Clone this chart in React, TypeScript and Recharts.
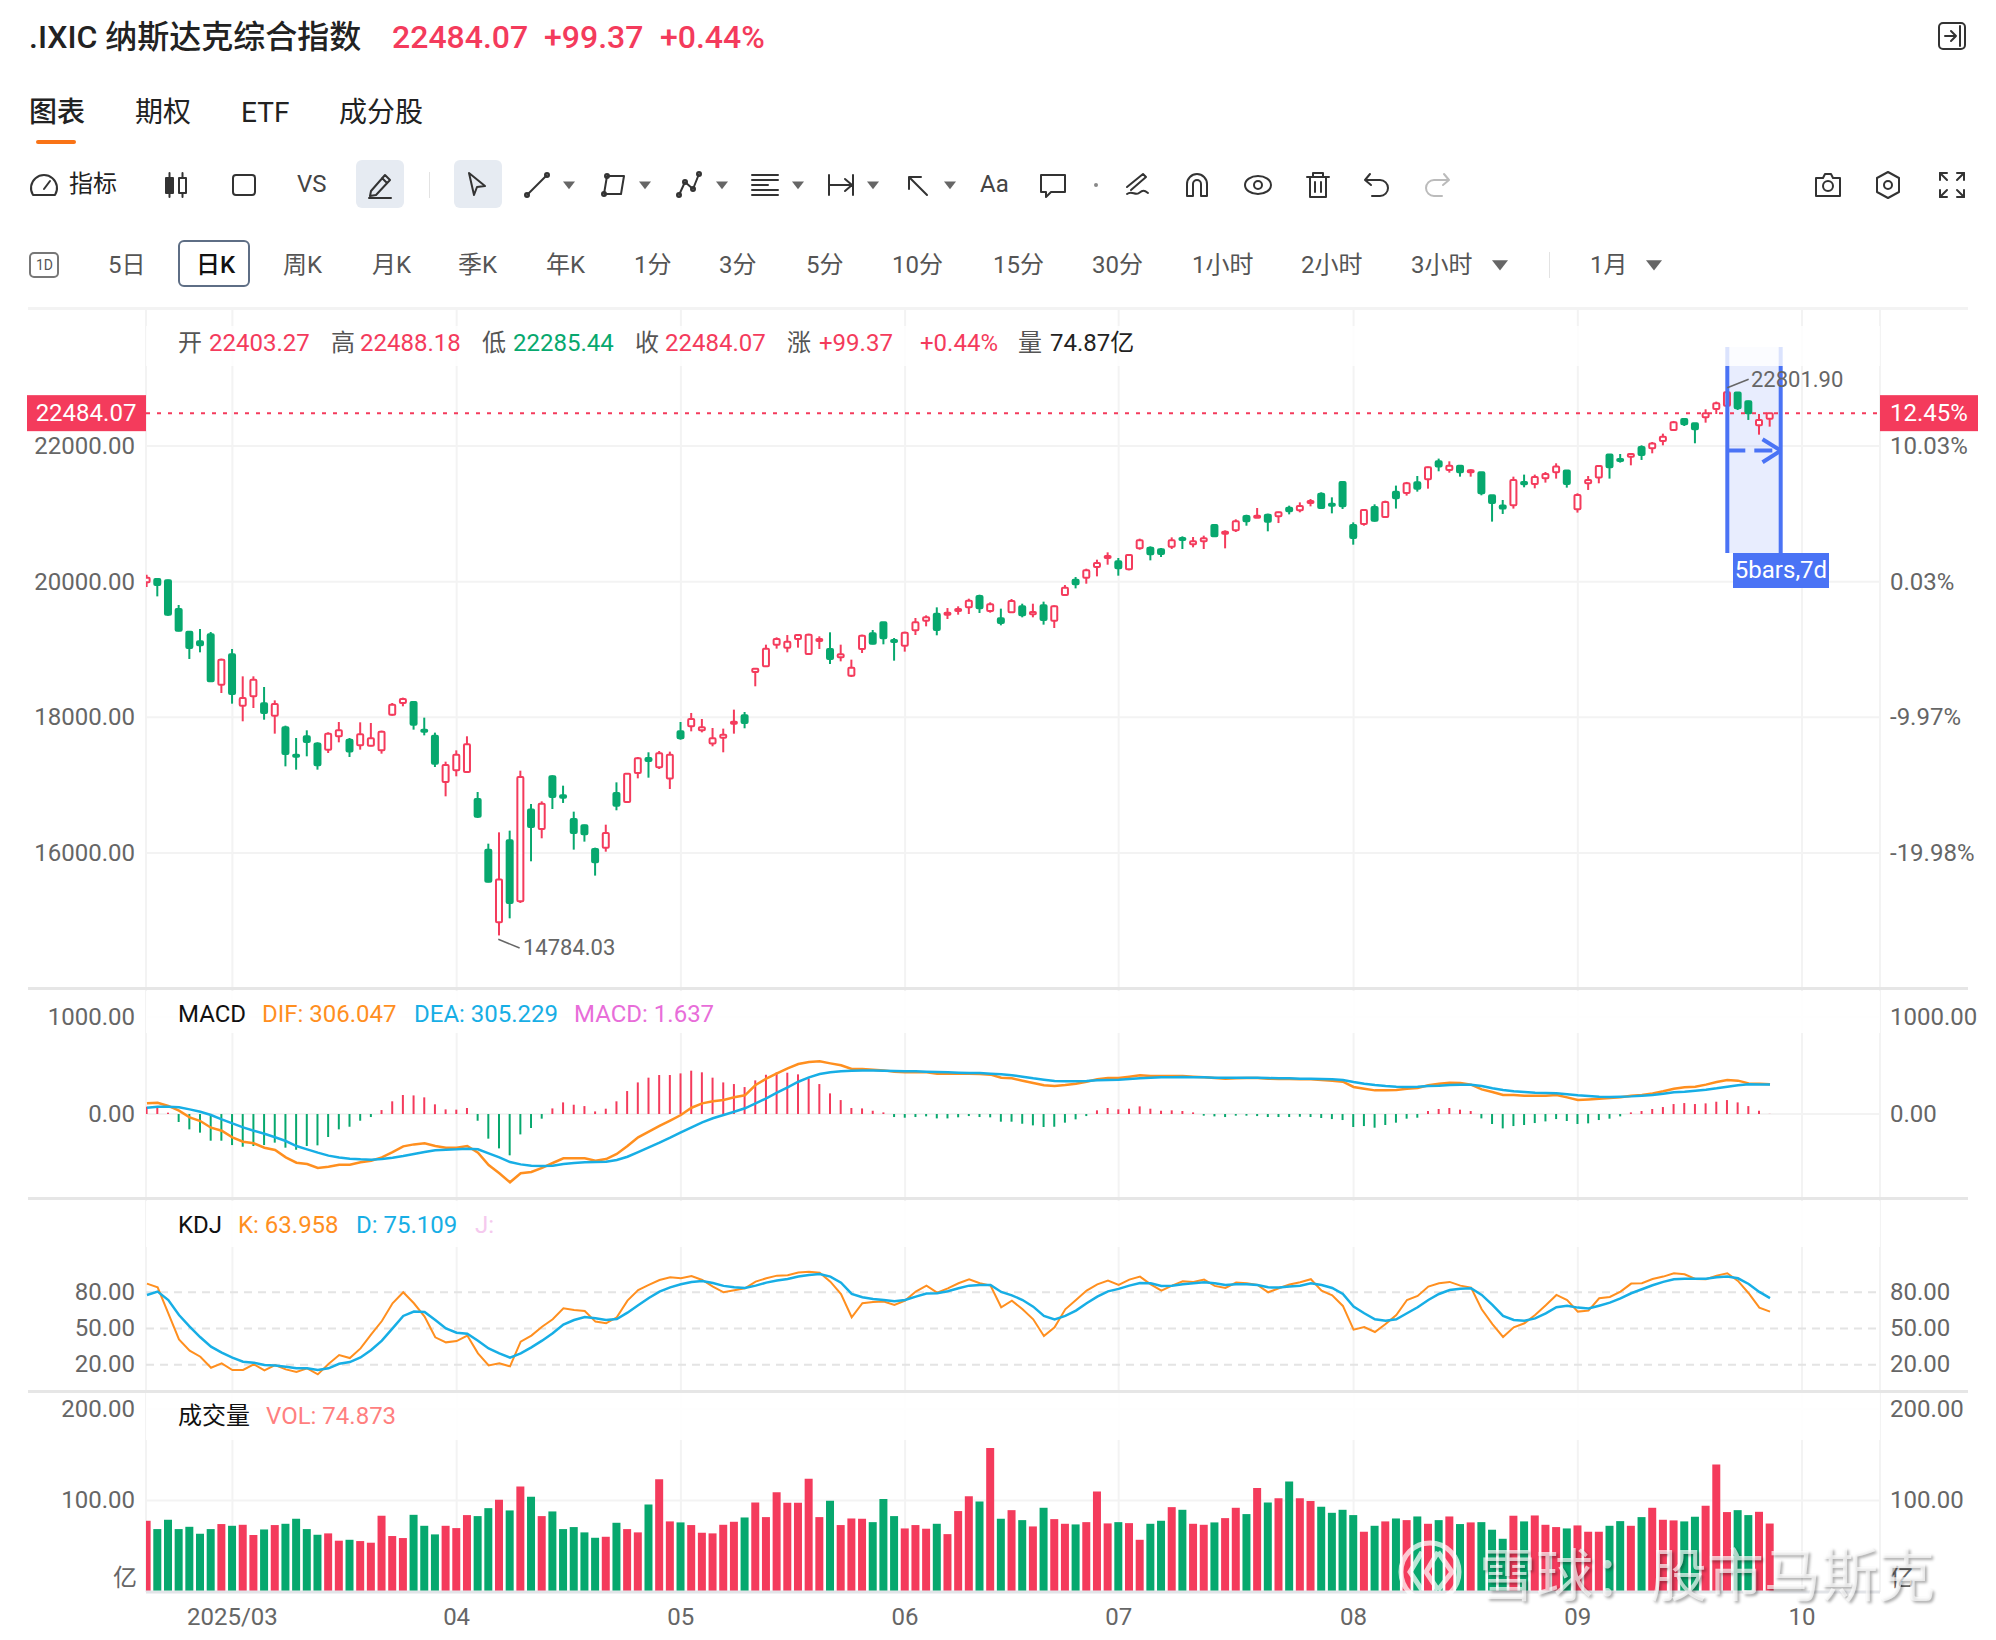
import React from 'react';
import { ComposedChart, Bar, Line, XAxis, YAxis, CartesianGrid, ReferenceLine, ReferenceArea, Cell } from 'recharts';

const opens = [
  19990,20039,20019,19597,19263,19120,19223,18481,18928,18172,
  18309,18206,18024,17852,17449,17720,17612,17523,17720,17670,
  17587,17582,17513,18039,18211,18226,17818,17729,17046,17218,
  17194,16796,16049,14978,16186,15287,16639,16354,17130,16850,
  16501,16408,16059,16078,16884,16752,17179,17400,17263,17096,
  17793,17867,17808,17612,17700,17911,18029,18668,18752,19071,
  19027,19154,18933,19125,19007,18884,18614,19007,19238,19400,
  19140,19056,19282,19425,19528,19518,19567,19621,19788,19567,
  19459,19548,19636,19518,19651,19425,19803,20029,20059,20216,
  20358,20299,20181,20491,20501,20476,20516,20643,20550,20594,
  20835,20717,20756,20968,20953,20987,20963,21091,21051,21164,
  21297,21149,21469,20835,20850,21100,20953,21327,21307,21465,
  21509,21774,21647,21710,21612,21612,21273,21121,21126,21470,
  21440,21524,21612,21637,21067,21450,21534,21873,21809,21843,
  21986,21966,22074,22236,22398,22334,22423,22546,22595,22787,
  22659,22305,22403.27,
];
const highs = [
  20103,20049,20029,19656,19272,19302,19258,18865,19007,18604,
  18604,18447,18250,17877,17695,17808,17631,17779,17931,17695,
  17926,17916,17803,18211,18290,18240,17995,17774,17346,17513,
  17720,16899,16137,16304,16329,17213,16722,16761,17145,16992,
  16609,16417,16078,16417,17041,17179,17415,17484,17503,17494,
  17931,18064,17975,17842,17833,18113,18078,18717,19071,19179,
  19213,19228,19233,19194,19253,19071,18850,19218,19287,19400,
  19169,19262,19464,19503,19621,19611,19636,19749,19808,19695,
  19602,19744,19675,19675,19705,19651,19950,20068,20191,20324,
  20432,20349,20408,20634,20520,20496,20653,20668,20658,20678,
  20845,20756,20919,20987,21086,21002,21032,21120,21169,21218,
  21317,21243,21469,20874,21071,21140,21194,21416,21470,21558,
  21696,21814,21774,21720,21656,21612,21273,21204,21548,21578,
  21578,21617,21745,21637,21303,21558,21715,21882,21882,21892,
  22010,22059,22182,22369,22408,22339,22541,22654,22801.9,22792,
  22669,22472,22488.18,
];
const lows = [
  19921,19783,19498,19267,18860,18958,18525,18358,18201,17941,
  18137,17965,17759,17277,17228,17425,17228,17474,17631,17415,
  17523,17572,17464,18024,18162,17818,17734,17267,16835,17130,
  17179,16516,15567,14784.03,15036,15263,15877,16216,16648,16737,
  16049,16167,15666,16019,16629,16737,17100,17110,17238,16943,
  17670,17793,17778,17572,17484,17759,17838,18457,18742,19012,
  18958,19027,18923,19007,18786,18825,18594,18948,19076,19076,
  18835,18968,19213,19341,19209,19449,19513,19523,19538,19543,
  19356,19538,19474,19474,19366,19317,19788,19901,19970,20078,
  20250,20088,20167,20471,20314,20363,20481,20481,20506,20481,
  20658,20491,20732,20825,20953,20742,20864,20992,21022,21110,
  21071,21007,21071,20545,20825,20884,20938,21077,21268,21327,
  21371,21627,21607,21548,21548,21273,20885,20998,21077,21391,
  21376,21460,21519,21386,21018,21352,21450,21519,21755,21715,
  21794,21892,22010,22226,22295,22040,22344,22472,22580,22531,
  22384,22167,22285.44,
];
const closes = [
  20059,19950,19513,19277,19022,19061,18530,18850,18344,18285,
  18555,18064,18196,17459,17425,17636,17292,17759,17808,17494,
  17749,17690,17788,18186,18270,17892,17793,17317,17297,17449,
  17602,16535,15577,15607,15263,17120,16383,16727,16825,16815,
  16294,16275,15862,16294,16697,17169,17395,17356,17469,17449,
  17690,17975,17852,17690,17744,17936,17916,18717,19012,19154,
  19115,19213,19218,19154,18860,18928,18732,19204,19086,19164,
  19110,19248,19400,19474,19287,19543,19597,19720,19607,19665,
  19390,19715,19503,19552,19435,19636,19911,19960,20167,20275,
  20378,20196,20393,20609,20403,20408,20609,20629,20594,20638,
  20668,20737,20889,20889,20973,20884,21022,21037,21115,21189,
  21086,21125,21110,20643,21056,20899,21174,21229,21450,21371,
  21686,21696,21710,21612,21642,21303,21160,21077,21499,21435,
  21543,21588,21696,21440,21278,21499,21706,21686,21784,21882,
  21868,22035,22138,22349,22320,22246,22482,22629,22792,22556,
  22482,22384,22484.07,
];
const dif = [
  110,117,83,35,-34,-72,-141,-172,-240,-285,
  -302,-347,-371,-447,-502,-515,-556,-543,-522,-522,
  -498,-481,-447,-392,-333,-313,-302,-330,-347,-347,
  -330,-398,-526,-611,-704,-611,-598,-556,-505,-457,
  -457,-457,-481,-464,-412,-330,-240,-182,-123,-68,
  -10,65,110,131,145,172,193,299,364,419,
  471,516,536,543,522,502,464,464,457,450,
  437,430,430,430,416,416,416,416,413,406,
  375,368,344,320,296,289,299,313,333,358,
  371,371,385,399,392,392,392,392,385,378,
  371,364,368,371,371,364,361,361,358,358,
  351,344,333,279,261,244,244,248,261,268,
  296,313,323,320,303,254,227,196,196,189,
  189,189,196,172,145,151,158,165,172,189,
  196,213,234,261,275,282,303,330,351,344,
  316,313,306.047,
];
const dea = [
  65,76,76,69,48,24,-10,-55,-96,-137,
  -172,-203,-240,-278,-330,-364,-398,-429,-447,-460,
  -467,-471,-464,-450,-433,-412,-392,-374,-367,-364,
  -357,-364,-405,-447,-495,-519,-533,-536,-533,-515,
  -505,-498,-495,-491,-474,-440,-392,-343,-295,-244,
  -189,-137,-86,-44,-10,24,59,110,162,220,
  275,333,378,413,430,440,447,450,450,447,
  443,440,440,437,433,430,426,423,423,416,
  409,399,385,368,354,340,337,337,340,347,
  351,354,361,368,375,378,378,382,378,378,
  375,375,375,375,375,371,368,368,364,364,
  361,358,351,330,313,299,289,282,279,282,
  289,292,299,303,303,289,265,248,234,227,
  220,217,213,203,193,186,179,175,179,182,
  189,196,210,224,230,241,251,265,282,296,
  306,305,305.229,
];
const macd = [
  76,76,14,-82,-158,-192,-275,-275,-320,-337,
  -330,-320,-295,-347,-368,-330,-323,-237,-158,-131,
  -69,-31,41,131,196,192,172,100,48,45,
  62,-69,-254,-354,-426,-210,-144,-48,58,120,
  96,82,27,55,131,237,326,375,402,402,
  419,447,430,375,326,309,278,347,405,430,
  426,409,368,309,213,144,62,58,34,17,
  -31,-38,-31,-24,-45,-45,-34,-21,-31,-34,
  -79,-79,-100,-117,-134,-131,-89,-55,-21,38,
  62,48,55,79,55,34,38,31,17,-17,
  -24,-31,-17,-17,-21,-31,-31,-31,-28,-31,
  -41,-52,-62,-134,-124,-141,-113,-89,-48,-38,
  31,52,62,45,31,-45,-103,-148,-124,-113,
  -93,-76,-52,-72,-103,-96,-62,-48,-24,17,
  31,52,72,103,113,103,110,127,144,120,
  82,34,1.637,
];
const kValues = [
  87.2,84.1,62.6,41,31.6,26.6,17.5,21.1,15.6,15.6,
  20.3,15.3,19.7,16.1,13.9,17,12,20.6,28,25.5,
  33.5,45.2,56.2,70.9,80,70.9,59.8,42.7,38.5,39.6,
  44.1,29.4,19.4,21.1,18.6,39.1,44.1,51.5,57.6,66.7,
  65.3,64.5,55.7,54.3,59.3,73.1,81.9,86.1,90.2,92.4,
  91.6,93.5,90.2,84.7,80,81.7,83.3,88.8,91.6,93.8,
  94.1,96.3,97.1,96.3,88.8,78.6,59.3,70.9,72,72.3,
  69.5,73.1,80.6,85.5,79.7,83.3,87.5,90.8,87.5,85.5,
  67.6,73.1,65.9,57.6,43.8,51,65.9,73.6,81.4,86.6,
  89.7,86.1,90.5,93,86.6,81.4,85.5,89.1,88.6,90.5,
  85.3,83.6,88,87.5,86.1,80,83.3,86.4,88.3,90.8,
  81.4,77.5,68.7,49,51.2,47.1,53.7,61.2,73.6,77,
  84.7,87.5,88.6,85.5,83.9,65.9,53.7,43,51,54.3,
  61.2,69.2,77.8,73.6,64,64.8,75,76.1,80.6,87.2,
  87.5,91,93,95.8,94.9,91,90.8,93.8,95.8,89.4,
  79.2,67.3,63.958,
];
const dValues = [
  77.8,80.6,73.6,61.2,51.5,42.7,34.9,30,25.8,22.5,
  21.7,19.7,19.4,18.3,17,17,15.6,17,20.8,22.2,
  26,32.2,39.9,50.1,60.4,64,63.7,57,50.1,46.5,
  45.7,39.9,33.5,29.4,25.8,29.4,34.4,39.9,46,53.2,
  57,59.5,58.4,57,57.9,63.1,69.2,75.3,80.6,84.1,
  86.6,88.6,89.4,87.7,85.3,84.1,83.6,85.5,88,89.7,
  91,93,94.4,95.2,93,88,78.6,75.9,74.5,73.6,
  72.5,73.6,76.4,78.9,79.2,80.8,83.3,85.5,86.1,86.1,
  80.3,77.5,73.6,68.1,60.4,57.6,60.4,64.8,70.9,76.4,
  80.8,82.8,85.5,87.7,87.5,85.3,85.5,86.6,87.5,88.3,
  87.5,86.1,86.6,86.6,86.1,84.1,83.9,84.7,85.5,87.5,
  86.1,83.6,78.6,68.1,62.6,57.6,56.5,57.6,62.6,67.6,
  73.6,78.6,81.9,83,83.3,77.8,69.5,60.4,57,56.5,
  58.4,62.6,67.6,68.9,67.3,66.5,68.9,71.4,75,79.2,
  82.5,85.8,88.6,90.8,91.3,91.3,91.3,92.4,93,91.6,
  86.9,80.3,75.109,
];
const volumes = [
  77.9,68.8,79,68.8,71.3,63.7,68.8,74.3,72.4,73.5,
  62.2,68.4,73.2,74.6,80.1,68.8,62.6,64.1,56.1,57.1,
  55.7,53.9,83.4,61.2,59,84.4,72.4,63,72.4,69.9,
  84.1,83,91.7,100.8,89.2,115.4,104.1,83,88.1,68.8,
  71,65.2,59.3,60.4,75.7,68.8,65.2,95.7,123.4,77.2,
  76.1,73.2,64.8,64.1,73.5,76.8,81.5,97.9,81.9,109.2,
  97.6,97.6,123.8,81.9,99.7,73.2,80.4,80.1,76.4,101.6,
  83,69.5,73.2,69.2,74.6,63.3,88.5,104.8,99,157.6,
  80.1,89.5,78.6,71.7,92.1,79.7,74.6,73.9,76.4,109.9,
  75,76.4,75.3,57.1,74.6,77.9,92.8,89.9,74.6,73.5,
  76.1,80.8,92.1,85.2,113.6,97.9,102.6,120.8,102.6,99.4,
  93.2,86.6,89.9,84.1,65.9,72.4,77.2,80.4,78.6,82.6,
  74.6,78.6,82.6,74.3,76.1,76.4,68.1,58.2,83.4,77.2,
  83.7,73.5,71,69.5,72.8,65.9,65.9,72.4,77.5,72.4,
  81.9,92.1,79,78.3,77.2,82.3,94.3,139.4,87.4,89.5,
  84.1,87.7,74.873,
];

const monthTicks = [8, 29, 50, 71, 91, 113, 134, 155];
const monthLabels = ['2025/03', '04', '05', '06', '07', '08', '09', '10'];
const priceTicks = [16000, 18000, 20000, 22000];
const percentLabels = ['-19.98%', '-9.97%', '0.03%', '10.03%'];
const lastClose = 22484.07;
const lastPercent = '12.45%';
const kdjTicks = [20, 50, 80];
const periods = ['5日', '日K', '周K', '月K', '季K', '年K', '1分', '3分', '5分', '10分', '15分', '30分', '1小时', '2小时', '3小时', '1月'];
const periodX = [108, 196, 283, 372, 458, 546, 634, 719, 806, 892, 993, 1092, 1192, 1301, 1411, 1590];

const rows = closes.map((c, i) => ({
  idx: i, open: opens[i], high: highs[i], low: lows[i], close: c,
  range: [lows[i], highs[i]],
  dif: dif[i], dea: dea[i], macd: macd[i], k: kValues[i], d: dValues[i], vol: volumes[i],
}));

const RED = '#F43B5C';
const GREEN = '#07A86E';
const ORANGE = '#FF8F1F';
const BLUE = '#17AEE5';
const MEASURE = '#4A73F5';
const GRID = '#F3F3F3';
const LABEL = '#666';
const FONT = 'Roboto, "Noto Sans CJK SC", sans-serif';
const xDomain: [number, number] = [-0.09, 162.3];
const priceDomain: [number, number] = [14009, 24005];
const macdDomain: [number, number] = [-876, 1289];
const kdjDomain: [number, number] = [-1.8, 157.3];
const volDomain: [number, number] = [0, 219.8];
const tickStyle = { fontSize: 24, fill: LABEL, fontFamily: FONT };
const yTickStyle = { ...tickStyle, dy: -1 };

const Candle = (props: any) => {
  const { x, y, width, height, payload } = props;
  const { open, high, low, close } = payload;
  const perUnit = Math.abs(height) / Math.max(high - low, 1);
  const up = close >= open;
  const color = up ? RED : GREEN;
  const cx = x + width / 2;
  const top = y + (high - Math.max(open, close)) * perUnit;
  const bodyH = Math.max(Math.abs(open - close) * perUnit, 2);
  return (
    <g>
      <line x1={cx} x2={cx} y1={y} y2={y + Math.abs(height)} stroke={color} strokeWidth={2} />
      <rect x={x + 1} y={top} width={width - 2} height={bodyH} rx={1} fill={up ? '#fff' : color} stroke={color} strokeWidth={2} />
    </g>
  );
};

const PriceTick = (props: any) => {
  const { x, y, payload } = props;
  if (payload.value === lastClose) {
    return (
      <g>
        <rect x={27} y={y - 18} width={119} height={36} fill={RED} />
        <text x={86} y={y + 8} textAnchor="middle" fontSize={24} fill="#fff" fontFamily={FONT}>{lastClose.toFixed(2)}</text>
      </g>
    );
  }
  return <text x={x} y={y + 8} textAnchor="end" {...tickStyle}>{payload.value.toFixed(2)}</text>;
};

const PercentTick = (props: any) => {
  const { x, y, payload } = props;
  if (payload.value === lastClose) {
    return (
      <g>
        <rect x={1880} y={y - 18} width={98} height={36} fill={RED} />
        <text x={1929} y={y + 8} textAnchor="middle" fontSize={24} fill="#fff" fontFamily={FONT}>{lastPercent}</text>
      </g>
    );
  }
  return <text x={x} y={y + 8} textAnchor="start" {...tickStyle}>{percentLabels[priceTicks.indexOf(payload.value)]}</text>;
};

// grid positions come from the same domains the axes use, so the lines stay under the series
const gridX = ({ offset }: any) =>
  [...monthTicks, xDomain[0], xDomain[1]].map((v) => offset.left + ((v - xDomain[0]) / (xDomain[1] - xDomain[0])) * offset.width);
const gridY = (values: number[], domain: [number, number]) => ({ offset }: any) =>
  values.map((v) => offset.top + ((domain[1] - v) / (domain[1] - domain[0])) * offset.height);

const Panel = ({ top, height, children }: any) => (
  <div style={{ position: 'absolute', left: 0, top, width: 1996, height }}>
    <ComposedChart width={1996} height={height} data={rows} margin={{ top: 0, right: 0, bottom: 0, left: 0 }}>
      {children}
    </ComposedChart>
  </div>
);

const Txt = ({ x, y, size = 24, color = '#222', weight = 400, children }: any) => (
  <div style={{ position: 'absolute', left: x, top: y, transform: 'translateY(-50%)', fontSize: size, color, fontWeight: weight, fontFamily: FONT, whiteSpace: 'nowrap', lineHeight: 1.2 }}>
    {children}
  </div>
);

const Box = ({ x, y, w, h, bg, radius = 0, border, opacity }: any) => (
  <div style={{ position: 'absolute', left: x, top: y, width: w, height: h, background: bg, borderRadius: radius, border, opacity, boxSizing: 'border-box' }} />
);

const Ico = ({ x, y = 185, color = '#333', children }: any) => (
  <svg style={{ position: 'absolute', left: x - 16, top: y - 16 }} width={32} height={32} viewBox="0 0 32 32" fill="none" stroke={color} strokeWidth={2} strokeLinecap="round" strokeLinejoin="round">
    {children}
  </svg>
);

const Caret = ({ x, y = 185, size = 6, color = '#666' }: any) => (
  <svg style={{ position: 'absolute', left: x - size, top: y - size }} width={size * 2} height={size * 2}>
    <polygon points={`0,${size * 0.4} ${size * 2},${size * 0.4} ${size},${size * 1.7}`} fill={color} />
  </svg>
);

const Header = () => (
  <>
    <Txt x={29} y={37} size={32} weight={500}>.IXIC 纳斯达克综合指数</Txt>
    <Txt x={392} y={37} size={32} weight={500} color={RED}>22484.07</Txt>
    <Txt x={544} y={37} size={32} weight={500} color={RED}>+99.37</Txt>
    <Txt x={660} y={37} size={32} weight={500} color={RED}>+0.44%</Txt>
    <Ico x={1952} y={36}><rect x="3" y="3" width="26" height="26" rx="4" /><path d="M9 16h11M15 11l5 5-5 5M24 6v20" /></Ico>
    <Txt x={29} y={113} size={28} weight={500}>图表</Txt>
    <Txt x={135} y={113} size={28}>期权</Txt>
    <Txt x={241} y={113} size={28}>ETF</Txt>
    <Txt x={339} y={113} size={28}>成分股</Txt>
    <Box x={36} y={140} w={40} h={4} bg="#F97316" radius={2} />

    <Box x={356} y={160} w={48} h={48} bg="#E6EBF2" radius={6} />
    <Box x={454} y={160} w={48} h={48} bg="#E6EBF2" radius={6} />
    <Box x={429} y={172} w={1} h={26} bg="#E3E3E3" />
    <Ico x={44}><path d="M5 26a13 13 0 1 1 22 0z" /><path d="M16 20l6-8" /></Ico>
    <Txt x={69} y={184}>指标</Txt>
    <Ico x={176}><rect x="6" y="9" width="7" height="15" fill="#333" /><path d="M9.5 4v24M22.5 4v24" /><rect x="19" y="9" width="7" height="15" fill="#fff" /></Ico>
    <Ico x={244}><rect x="5" y="6" width="22" height="20" rx="3" /></Ico>
    <Txt x={297} y={184} color="#444">VS</Txt>
    <Ico x={380}><path d="M7 22L21 6l5 5-14 15-6 1zM18 9l5 5M5 29h22" /></Ico>
    <Ico x={477}><path d="M8 4l16 13-8 1-3 8z" /></Ico>
    <Ico x={537}><path d="M6 26L26 6" /><circle cx="6" cy="26" r="2" /><circle cx="26" cy="6" r="2" /></Ico>
    <Caret x={569} />
    <Ico x={614}><path d="M9 7h17l-3 18H6z" /><circle cx="9" cy="7" r="2" /><circle cx="6" cy="25" r="2" /></Ico>
    <Caret x={645} />
    <Ico x={689}><path d="M6 26l6-13 8 7 6-15" /><circle cx="6" cy="26" r="2" /><circle cx="12" cy="13" r="2" /><circle cx="20" cy="20" r="2" /><circle cx="26" cy="5" r="2" /></Ico>
    <Caret x={722} />
    <Ico x={765}><path d="M3 6h26M3 11h26M3 16h16M3 21h26M3 26h26" /></Ico>
    <Caret x={798} />
    <Ico x={841}><path d="M4 6v20M28 6v20M4 16h23M20 10l7 6-7 6" /></Ico>
    <Caret x={873} />
    <Ico x={917}><path d="M8 8l18 18M8 8v12M8 8h12" /></Ico>
    <Caret x={950} />
    <Txt x={980} y={184} color="#444">Aa</Txt>
    <Ico x={1053}><path d="M4 6h24v17H14l-5 5v-5H4z" /></Ico>
    <Box x={1094} y={183} w={4} h={4} bg="#888" radius={2} />
    <Ico x={1137}><path d="M6 18L22 5l3 3L10 21M6 25c5-4 8 2 12-1s5-3 9 0" /></Ico>
    <Ico x={1197}><path d="M6 27V15a10 10 0 0 1 20 0v12h-6V15a4 4 0 0 0-8 0v12z" /></Ico>
    <Ico x={1258}><ellipse cx="16" cy="16" rx="13" ry="9" /><circle cx="16" cy="16" r="4" /></Ico>
    <Ico x={1318}><path d="M5 8h22M11 8V4h10v4M8 8v20h16V8M13 13v10M19 13v10" /></Ico>
    <Ico x={1377}><path d="M9 5L4 11l6 5M5 11h14a8 8 0 0 1 0 16h-8" /></Ico>
    <Ico x={1437} color="#BBB"><path d="M23 5l5 6-6 5M27 11H13a8 8 0 0 0 0 16h8" /></Ico>
    <Ico x={1828}><path d="M4 9h7l2-4h6l2 4h7v18H4z" /><circle cx="16" cy="17" r="5" /></Ico>
    <Ico x={1888}><path d="M16 3l11 6v14l-11 6-11-6V9z" /><circle cx="16" cy="16" r="4" /></Ico>
    <Ico x={1952}><path d="M4 11V4h7M21 4h7v7M28 21v7h-7M11 28H4v-7" /><path d="M4 4l7 7M28 4l-7 7M28 28l-7-7M4 28l7-7" /></Ico>

    <Box x={29} y={252} w={30} h={26} bg="#fff" radius={5} border="2px solid #777" />
    <Txt x={36} y={265} size={14} color="#555">1D</Txt>
    <Box x={178} y={240} w={72} h={47} bg="#fff" radius={6} border="2px solid #5E6E85" />
    {periods.map((p, i) => (
      <Txt key={p} x={periodX[i]} y={265} color={p === '日K' ? '#111' : '#555'} weight={p === '日K' ? 500 : 400}>{p}</Txt>
    ))}
    <Caret x={1500} y={265} size={8} />
    <Box x={1549} y={252} w={1} h={26} bg="#E3E3E3" />
    <Caret x={1654} y={265} size={8} />
  </>
);

const Legends = () => (
  <>
    <Txt x={178} y={343} color="#555">开</Txt>
    <Txt x={209} y={343} color={RED}>22403.27</Txt>
    <Txt x={331} y={343} color="#555">高</Txt>
    <Txt x={360} y={343} color={RED}>22488.18</Txt>
    <Txt x={482} y={343} color="#555">低</Txt>
    <Txt x={513} y={343} color={GREEN}>22285.44</Txt>
    <Txt x={635} y={343} color="#555">收</Txt>
    <Txt x={665} y={343} color={RED}>22484.07</Txt>
    <Txt x={787} y={343} color="#555">涨</Txt>
    <Txt x={819} y={343} color={RED}>+99.37</Txt>
    <Txt x={920} y={343} color={RED}>+0.44%</Txt>
    <Txt x={1018} y={343} color="#555">量</Txt>
    <Txt x={1050} y={343} color="#222">74.87亿</Txt>

    <Txt x={178} y={1014} color="#111">MACD</Txt>
    <Txt x={262} y={1014} color={ORANGE}>DIF: 306.047</Txt>
    <Txt x={414} y={1014} color={BLUE}>DEA: 305.229</Txt>
    <Txt x={574} y={1014} color="#E86DD9">MACD: 1.637</Txt>

    <Txt x={178} y={1225} color="#111">KDJ</Txt>
    <Txt x={238} y={1225} color={ORANGE}>K: 63.958</Txt>
    <Txt x={356} y={1225} color={BLUE}>D: 75.109</Txt>
    <Txt x={475} y={1225} color="#F5C9EE">J:</Txt>

    <Txt x={178} y={1416} color="#111">成交量</Txt>
    <Txt x={266} y={1416} color="#FF7F7F">VOL: 74.873</Txt>

    <Txt x={523} y={948} size={22} color={LABEL}>14784.03</Txt>
    <Txt x={1751} y={380} size={22} color={LABEL}>22801.90</Txt>
    <div style={{ position: 'absolute', left: 1733, top: 553, width: 96, height: 35, background: MEASURE, color: '#fff', fontSize: 24, fontFamily: FONT, textAlign: 'center', lineHeight: '35px' }}>5bars,7d</div>

    <Txt x={113} y={1578} color={LABEL}>亿</Txt>
    <Txt x={1890} y={1578} color={LABEL}>亿</Txt>
  </>
);

const Watermark = () => (
  <>
    <svg style={{ position: 'absolute', left: 1394, top: 1538 }} width={74} height={70} viewBox="0 0 74 70" fill="none" stroke="rgba(255,255,255,0.72)" strokeWidth={5}>
      <circle cx="36" cy="34" r="29" />
      <path d="M28 14L16 34l12 18M44 14L32 34l12 18M44 14l14 20-14 18" />
    </svg>
    <div style={{ position: 'absolute', left: 1479, top: 1549, fontSize: 57, fontFamily: FONT, color: 'rgba(255,255,255,0.68)', textShadow: '2px 2px 3px rgba(0,0,0,0.32)', whiteSpace: 'nowrap', lineHeight: '56px' }}>
      雪球：股市马斯克
    </div>
  </>
);

export default function App() {
  return (
    <div style={{ position: 'absolute', left: 0, top: 0, width: 1996, height: 1640, background: '#fff', overflow: 'hidden' }}>
      <Panel top={310} height={678}>
        <CartesianGrid stroke={GRID} strokeWidth={2} yAxisId="left" horizontalCoordinatesGenerator={gridY(priceTicks, priceDomain)} verticalCoordinatesGenerator={gridX} />
        <XAxis dataKey="idx" type="number" domain={xDomain} allowDataOverflow hide ticks={monthTicks} />
        <YAxis yAxisId="left" orientation="left" width={146} domain={priceDomain} allowDataOverflow ticks={[...priceTicks, lastClose]} interval={0} tick={<PriceTick />} tickMargin={5} tickLine={false} axisLine={false} />
        <YAxis yAxisId="right" orientation="right" width={116} domain={priceDomain} allowDataOverflow ticks={[...priceTicks, lastClose]} interval={0} tick={<PercentTick />} tickMargin={4} tickLine={false} axisLine={false} />
        <Bar yAxisId="left" dataKey="range" barSize={8} shape={<Candle />} isAnimationActive={false} />
        <ReferenceLine yAxisId="left" y={lastClose} stroke={RED} strokeWidth={2} strokeDasharray="4 7" />
        <ReferenceArea yAxisId="left" x1={148} x2={153} y1={20423} y2={23460} fill={MEASURE} fillOpacity={0.13} stroke="none" />
        <ReferenceLine yAxisId="left" segment={[{ x: 148, y: 20423 }, { x: 148, y: 23460 }]} stroke={MEASURE} strokeWidth={4} />
        <ReferenceLine yAxisId="left" segment={[{ x: 153, y: 20423 }, { x: 153, y: 23460 }]} stroke={MEASURE} strokeWidth={4} />
        <ReferenceLine yAxisId="left" segment={[{ x: 148, y: 21932 }, { x: 153, y: 21932 }]} stroke={MEASURE} strokeWidth={4} strokeDasharray="18 9" />
        <ReferenceLine yAxisId="left" segment={[{ x: 151.3, y: 22099 }, { x: 153, y: 21932 }]} stroke={MEASURE} strokeWidth={4} />
        <ReferenceLine yAxisId="left" segment={[{ x: 151.3, y: 21760 }, { x: 153, y: 21932 }]} stroke={MEASURE} strokeWidth={4} />
        <ReferenceLine yAxisId="left" segment={[{ x: 32.9, y: 14727 }, { x: 34.9, y: 14599 }]} stroke={LABEL} strokeWidth={1.5} />
        <ReferenceLine yAxisId="left" segment={[{ x: 148, y: 22859 }, { x: 150, y: 22983 }]} stroke={LABEL} strokeWidth={1.5} />
      </Panel>

      <Panel top={989} height={210}>
        <CartesianGrid stroke={GRID} strokeWidth={2} yAxisId="left" horizontalCoordinatesGenerator={gridY([0, 1000], macdDomain)} verticalCoordinatesGenerator={gridX} />
        <XAxis dataKey="idx" type="number" domain={xDomain} allowDataOverflow hide ticks={monthTicks} />
        <YAxis yAxisId="left" width={146} domain={macdDomain} allowDataOverflow ticks={[0, 1000]} tickFormatter={(v: number) => v.toFixed(2)} tick={yTickStyle} tickMargin={5} tickLine={false} axisLine={false} />
        <YAxis yAxisId="right" orientation="right" width={116} domain={macdDomain} allowDataOverflow ticks={[0, 1000]} tickFormatter={(v: number) => v.toFixed(2)} tick={yTickStyle} tickMargin={4} tickLine={false} axisLine={false} />
        <Bar yAxisId="left" dataKey="macd" barSize={2} isAnimationActive={false}>
          {rows.map((r) => <Cell key={r.idx} fill={r.macd >= 0 ? RED : GREEN} />)}
        </Bar>
        <Line yAxisId="left" dataKey="dif" stroke={ORANGE} strokeWidth={2.5} dot={false} isAnimationActive={false} />
        <Line yAxisId="left" dataKey="dea" stroke={BLUE} strokeWidth={2.5} dot={false} isAnimationActive={false} />
      </Panel>

      <Panel top={1199} height={192}>
        <CartesianGrid stroke={GRID} strokeWidth={2} yAxisId="left" horizontal={false} verticalCoordinatesGenerator={gridX} />
        <XAxis dataKey="idx" type="number" domain={xDomain} allowDataOverflow hide ticks={monthTicks} />
        <YAxis yAxisId="left" width={146} domain={kdjDomain} allowDataOverflow ticks={kdjTicks} tickFormatter={(v: number) => v.toFixed(2)} tick={yTickStyle} tickMargin={5} tickLine={false} axisLine={false} />
        <YAxis yAxisId="right" orientation="right" width={116} domain={kdjDomain} allowDataOverflow ticks={kdjTicks} tickFormatter={(v: number) => v.toFixed(2)} tick={yTickStyle} tickMargin={4} tickLine={false} axisLine={false} />
        {kdjTicks.map((v) => <ReferenceLine key={v} yAxisId="left" y={v} stroke="#E4E4E4" strokeWidth={2} strokeDasharray="8 6" />)}
        <Line yAxisId="left" dataKey="k" stroke={ORANGE} strokeWidth={2} dot={false} isAnimationActive={false} />
        <Line yAxisId="left" dataKey="d" stroke={BLUE} strokeWidth={2.5} dot={false} isAnimationActive={false} />
      </Panel>

      <Panel top={1391} height={249}>
        <CartesianGrid stroke={GRID} strokeWidth={2} yAxisId="left" horizontalCoordinatesGenerator={gridY([100, 200], volDomain)} verticalCoordinatesGenerator={gridX} />
        <XAxis dataKey="idx" type="number" domain={xDomain} allowDataOverflow height={48} ticks={monthTicks} interval={0} tickFormatter={(v: number) => monthLabels[monthTicks.indexOf(v)]} tick={tickStyle} tickMargin={10} tickLine={false} axisLine={{ stroke: '#E2E4E8', strokeWidth: 3 }} />
        <YAxis yAxisId="left" width={146} domain={volDomain} allowDataOverflow ticks={[100, 200]} tickFormatter={(v: number) => v.toFixed(2)} tick={yTickStyle} tickMargin={5} tickLine={false} axisLine={false} />
        <YAxis yAxisId="right" orientation="right" width={116} domain={volDomain} allowDataOverflow ticks={[100, 200]} tickFormatter={(v: number) => v.toFixed(2)} tick={yTickStyle} tickMargin={4} tickLine={false} axisLine={false} />
        <Bar yAxisId="left" dataKey="vol" barSize={8} isAnimationActive={false}>
          {rows.map((r) => <Cell key={r.idx} fill={r.close >= r.open ? RED : GREEN} />)}
        </Bar>
      </Panel>

      <Box x={146} y={326} w={1734} h={40} bg="#fff" opacity={0.8} />
      <Box x={146} y={991} w={1734} h={42} bg="#fff" opacity={0.85} />
      <Box x={146} y={1201} w={1734} h={46} bg="#fff" opacity={0.85} />
      <Box x={146} y={1393} w={1734} h={47} bg="#fff" opacity={0.85} />

      {[308, 988, 1198, 1391].map((y) => <Box key={y} x={28} y={y - 1} w={1940} h={3} bg={y === 308 ? '#F3F3F3' : '#E6E6E6'} />)}

      <Header />
      <Legends />
      <Watermark />
    </div>
  );
}
